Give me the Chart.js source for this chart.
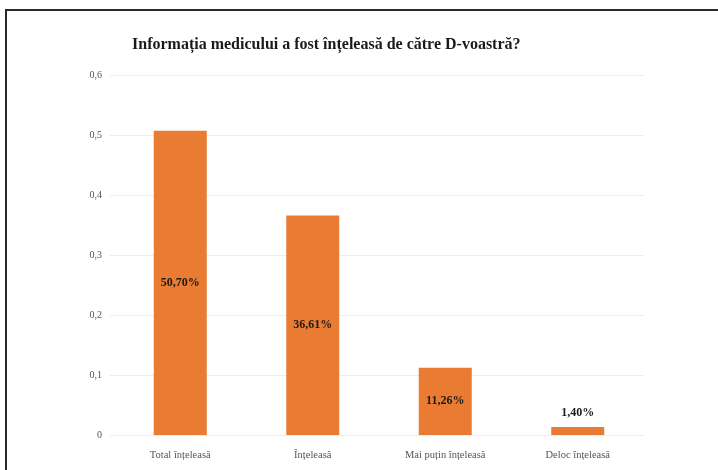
<!DOCTYPE html>
<html>
<head>
<meta charset="utf-8">
<script src="https://cdn.jsdelivr.net/npm/chart.js@4"></script>
<style>
  html, body { margin: 0; padding: 0; background: #fff; }
  #wrap { position: relative; width: 718px; height: 470px; }
  #frame {
    position: absolute; left: 5px; top: 9px; right: 0; bottom: 0;
    border-top: 2px solid #2a2a2a; border-left: 2px solid #2a2a2a;
    pointer-events: none;
  }
</style>
</head>
<body>
<div id="wrap">
  <canvas id="chart" width="718" height="470"></canvas>
  <div id="frame"></div>
</div>
<script>
const chartTitle = "Informația medicului a fost înțeleasă de către D-voastră?";
const categories = ["Total înțeleasă", "Înțeleasă", "Mai puțin înțeleasă", "Deloc înțeleasă"];
const shares = [0.507, 0.3661, 0.1126, 0.014];
const shareLabels = ["50,70%", "36,61%", "11,26%", "1,40%"];
const yTicks = [0, 0.1, 0.2, 0.3, 0.4, 0.5, 0.6];

// title drawn left-ish like the original, not centred on the plot
const titlePlugin = {
  id: "sideTitle",
  afterDraw(chart) {
    const ctx = chart.ctx;
    ctx.save();
    ctx.font = "bold 16px 'Liberation Serif', serif";
    ctx.fillStyle = "#1a1a1a";
    ctx.textAlign = "left";
    ctx.textBaseline = "middle";
    ctx.fillText(chartTitle, 132, 45);
    ctx.restore();
  }
};

// value labels: middle of the bar, or above it when the bar is too short
const valueLabels = {
  id: "valueLabels",
  afterDatasetsDraw(chart) {
    const ctx = chart.ctx;
    const meta = chart.getDatasetMeta(0);
    ctx.save();
    ctx.font = "bold 12px 'Liberation Serif', serif";
    ctx.fillStyle = "#1a1a1a";
    ctx.textAlign = "center";
    ctx.textBaseline = "middle";
    meta.data.forEach((bar, i) => {
      const h = bar.base - bar.y;
      const y = h < 24 ? bar.y - 14 : bar.y + h / 2;
      ctx.fillText(shareLabels[i], bar.x, y);
    });
    ctx.restore();
  }
};

new Chart(document.getElementById("chart").getContext("2d"), {
  type: "bar",
  data: {
    labels: categories,
    datasets: [
      {
        data: shares,
        backgroundColor: "#E97B32",
        barPercentage: 0.4,
        categoryPercentage: 1,
      },
    ],
  },
  options: {
    responsive: false,
    animation: false,
    layout: { padding: { left: 60, right: 74, top: 75, bottom: 2 } },
    plugins: {
      legend: { display: false },
      tooltip: { enabled: false },
    },
    scales: {
      x: {
        grid: { display: false },
        border: { display: false },
        ticks: {
          padding: 6,
          color: "#555",
          font: { family: "'Liberation Serif', serif", size: 10.5 },
        },
      },
      y: {
        min: 0,
        max: 0.6,
        afterFit(scale) { scale.width = 54; },
        afterBuildTicks(scale) { scale.ticks = yTicks.map(v => ({ value: v })); },
        grid: { color: "#ececec", tickLength: 4, drawTicks: true, tickColor: "#ececec" },
        border: { display: false },
        ticks: {
          padding: 8,
          color: "#555",
          font: { family: "'Liberation Serif', serif", size: 10 },
          callback: v => String(Math.round(v * 10) / 10).replace(".", ","),
        },
      },
    },
  },
  plugins: [titlePlugin, valueLabels],
});
</script>
</body>
</html>
